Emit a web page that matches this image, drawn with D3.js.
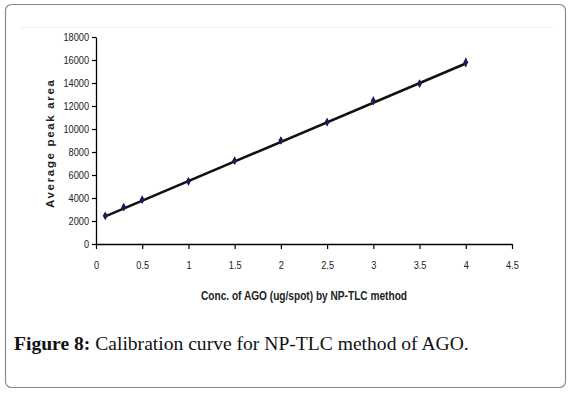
<!DOCTYPE html>
<html><head><meta charset="utf-8">
<script src="https://cdn.jsdelivr.net/npm/d3@7"></script>
<style>
html,body{margin:0;padding:0;background:#fff;}
svg{display:block;}
</style></head>
<body>
<svg id="chart" width="571" height="394"></svg>
<script>
// Data
const concentrations = [0.1, 0.3, 0.5, 1, 1.5, 2, 2.5, 3, 3.5, 4];
const peakAreas = [2450, 3200, 3850, 5450, 7250, 9000, 10600, 12450, 13950, 15800];
const errors = [250, 200, 250, 300, 300, 300, 300, 350, 300, 400];
const trendX = [0.1, 4];
const trendY = [2400, 15700];
const xTicks = [0, 0.5, 1, 1.5, 2, 2.5, 3, 3.5, 4, 4.5];
const yTicks = [0, 2000, 4000, 6000, 8000, 10000, 12000, 14000, 16000, 18000];
const xTitle = "Conc. of AGO (ug/spot) by NP-TLC method";
const yTitle = "Average peak area";
const captionBold = "Figure 8:";
const captionText = " Calibration curve for NP-TLC method of AGO.";

const svg = d3.select("#chart");
const sans = "'Liberation Sans',Arial,sans-serif";

function squeeze(sel, f){
  sel.each(function(){
    const w = this.getComputedTextLength();
    d3.select(this).attr("textLength", w*f).attr("lengthAdjust","spacingAndGlyphs");
  });
}

// frame
svg.append("rect").attr("x",5.5).attr("y",4.5).attr("width",560).attr("height",383)
  .attr("rx",6).attr("fill","#fff").attr("stroke","#8a8a8a").attr("stroke-width",1.2);
svg.append("line").attr("x1",20).attr("x2",553).attr("y1",27.5).attr("y2",27.5)
  .attr("stroke","#ececec").attr("stroke-width",1).attr("stroke-dasharray","2,1");

const x = d3.scaleLinear().domain([0,4.5]).range([96,512]);
const y = d3.scaleLinear().domain([0,18000]).range([244,37]);

// y axis
const ya = svg.append("g").attr("transform","translate(96,0)")
  .call(d3.axisLeft(y).tickValues(yTicks).tickFormat(d3.format("d")).tickSize(4).tickSizeOuter(0).tickPadding(3));
ya.select(".domain").attr("stroke","#000").attr("stroke-width",1.3);
ya.selectAll(".tick line").attr("stroke","#000").attr("stroke-width",1.2);
ya.selectAll("text").attr("font-family",sans).attr("font-size",11.5).attr("fill","#222");
squeeze(ya.selectAll("text"), 0.8);

// x axis
const xa = svg.append("g").attr("transform","translate(0,244)")
  .call(d3.axisBottom(x).tickValues(xTicks).tickFormat(d=>String(d)).tickSize(5).tickSizeOuter(0).tickPadding(12));
xa.select(".domain").attr("stroke","#000").attr("stroke-width",1.6);
xa.selectAll(".tick line").attr("stroke","#000").attr("stroke-width",1.2);
xa.selectAll("text").attr("font-family",sans).attr("font-size",11.5).attr("fill","#222");
squeeze(xa.selectAll("text"), 0.8);

// trend line
svg.append("path")
  .datum(trendX.map((d,i)=>[d,trendY[i]]))
  .attr("d", d3.line().x(d=>x(d[0])).y(d=>y(d[1])))
  .attr("stroke","#111").attr("stroke-width",2.6).attr("fill","none");

// error bars
const pts = concentrations.map((c,i)=>({c, v:peakAreas[i], e:errors[i]}));
svg.append("g").selectAll("line").data(pts).join("line")
  .attr("x1",d=>x(d.c)).attr("x2",d=>x(d.c))
  .attr("y1",d=>y(d.v-d.e)).attr("y2",d=>y(d.v+d.e))
  .attr("stroke","#1c1c4a").attr("stroke-width",1.2);

// markers
svg.append("g").selectAll("path").data(pts).join("path")
  .attr("transform",d=>`translate(${x(d.c)},${y(d.v)})`)
  .attr("d", d3.symbol(d3.symbolDiamond, 22)())
  .attr("fill","#1a1a5c");

// axis titles
const xt = svg.append("text").attr("x",304).attr("y",300).attr("text-anchor","middle")
  .attr("font-family",sans).attr("font-size",12.5).attr("font-weight","bold").attr("fill","#222")
  .text(xTitle);
xt.attr("textLength",206).attr("lengthAdjust","spacingAndGlyphs");
svg.append("text").attr("transform","translate(54,144) rotate(-90)").attr("text-anchor","middle")
  .attr("font-family",sans).attr("font-size",11.5).attr("font-weight","bold").attr("fill","#222")
  .attr("textLength",128).attr("lengthAdjust","spacing")
  .text(yTitle);

// caption
const cap = svg.append("text").attr("x",14).attr("y",350)
  .attr("font-family","'Liberation Serif','DejaVu Serif',serif").attr("font-size",18).attr("fill","#111");
cap.append("tspan").attr("font-weight","bold").text(captionBold);
cap.append("tspan").text(captionText);
const w = cap.node().getComputedTextLength();
cap.attr("font-size", 18*455/w);
</script>
</body></html>
